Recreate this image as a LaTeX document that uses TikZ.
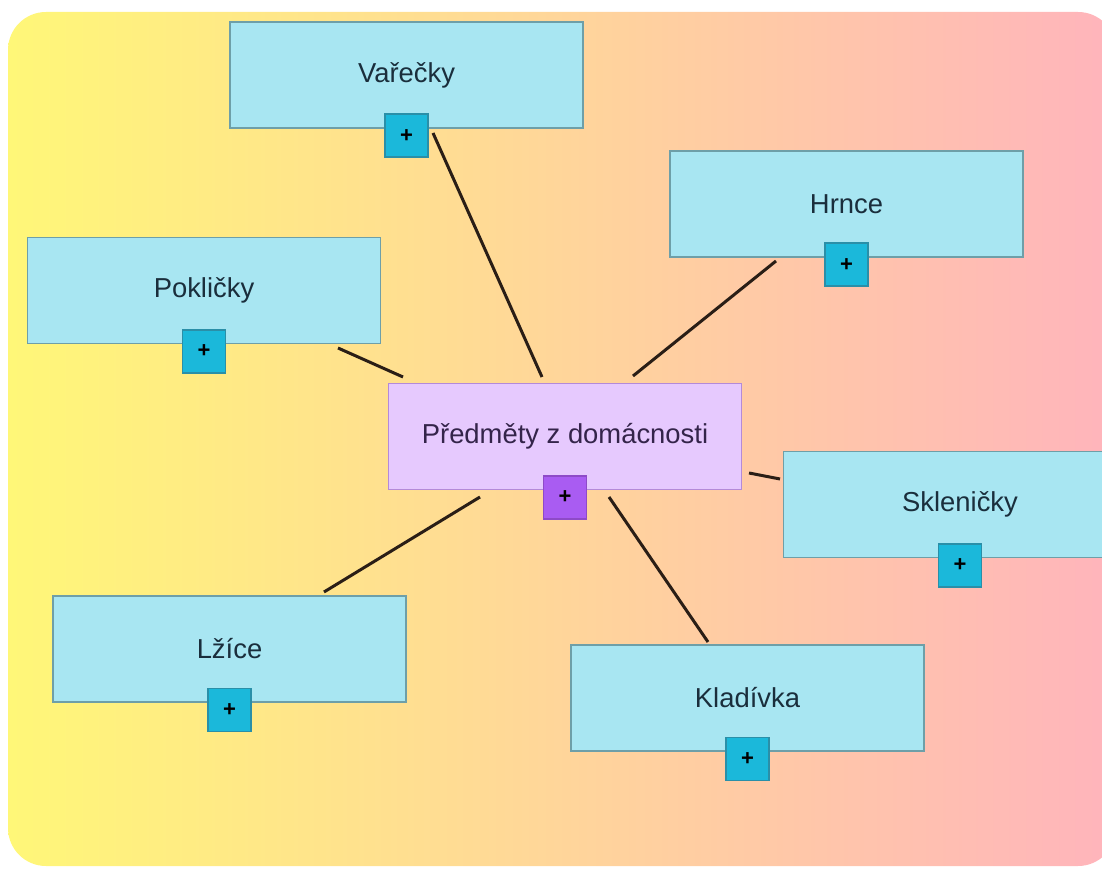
\documentclass[tikz,border=0pt]{standalone}
\usepackage{fontspec}
\setmainfont{Liberation Sans}
\usepackage{xcolor}
\usetikzlibrary{positioning,calc}
\definecolor{bgyellow}{RGB}{255,247,120}
\definecolor{bgpeach}{RGB}{251,214,156}
\definecolor{bgpink}{RGB}{255,180,188}
\definecolor{leaffill}{RGB}{168,230,242}
\definecolor{leafdraw}{RGB}{110,159,168}
\definecolor{leaftext}{RGB}{26,46,60}
\definecolor{plusfill}{RGB}{27,184,218}
\definecolor{plusdraw}{RGB}{42,143,168}
\definecolor{rootfill}{RGB}{230,201,254}
\definecolor{rootdraw}{RGB}{180,138,216}
\definecolor{roottext}{RGB}{52,36,74}
\definecolor{rootplus}{RGB}{169,92,242}
\definecolor{rootplusdraw}{RGB}{142,74,200}
\definecolor{linkcol}{RGB}{42,30,22}
\tikzset{%
	leaf/.style     = {draw=leafdraw, line width=0.8pt, fill=leaffill, rectangle, minimum width=176.5pt, minimum height=53pt, inner sep=0pt, text=leaftext, font=\fontsize{13.7}{16}\selectfont},
	root/.style     = {leaf, draw=rootdraw, fill=rootfill, text=roottext},
	plusbox/.style  = {draw=plusdraw, line width=0.8pt, fill=plusfill, rectangle, minimum size=21.5pt, inner sep=0pt, font=\fontsize{11}{11}\bfseries\selectfont},
	rootplusbox/.style = {plusbox, draw=rootplusdraw, fill=rootplus},
	link/.style     = {draw=linkcol, line width=1.5pt},
}

\begin{document}
\begin{tikzpicture}[x=0.5pt,y=-0.5pt]
		\useasboundingbox (0,0) rectangle (1102,870);
		% background
		\shade[rounded corners=19pt, left color=bgyellow, middle color=bgpeach, right color=bgpink] (8,12) rectangle (1116,866);
		
		% connectors
		\foreach \nm/\ax/\ay/\bx/\by in {var/433/133/542/377, hrn/776/261/633/376, pok/338/348/403/377, skl/780/479/749/473, lzi/324/592/480/497, kla/708/642/609/497}
		{
			\coordinate (\nm-a) at (\ax,\ay);
			\coordinate (\nm-b) at (\bx,\by);
			\draw[link] (\nm-a) -- (\nm-b);
		}
		
		% root
		\node[root] (ctr) at (565,436.5) {Předměty z domácnosti};
		\node[rootplusbox] (ctr-p) at ([yshift=-3.5pt]ctr.south) {+};
		
		% leaves
		\foreach \nm/\x/\y/\txt in {var/406.5/75/Vařečky, hrn/846.5/204/Hrnce, pok/204/290.5/Pokličky, skl/960/504.5/Skleničky, lzi/229.5/649/Lžíce, kla/747.5/698/Kladívka}
		{
			\node[leaf] (\nm) at (\x,\y) {\txt};
			\node[plusbox] (\nm-p) at ([yshift=-3.5pt]\nm.south) {+};
		}
\end{tikzpicture}
\end{document}
